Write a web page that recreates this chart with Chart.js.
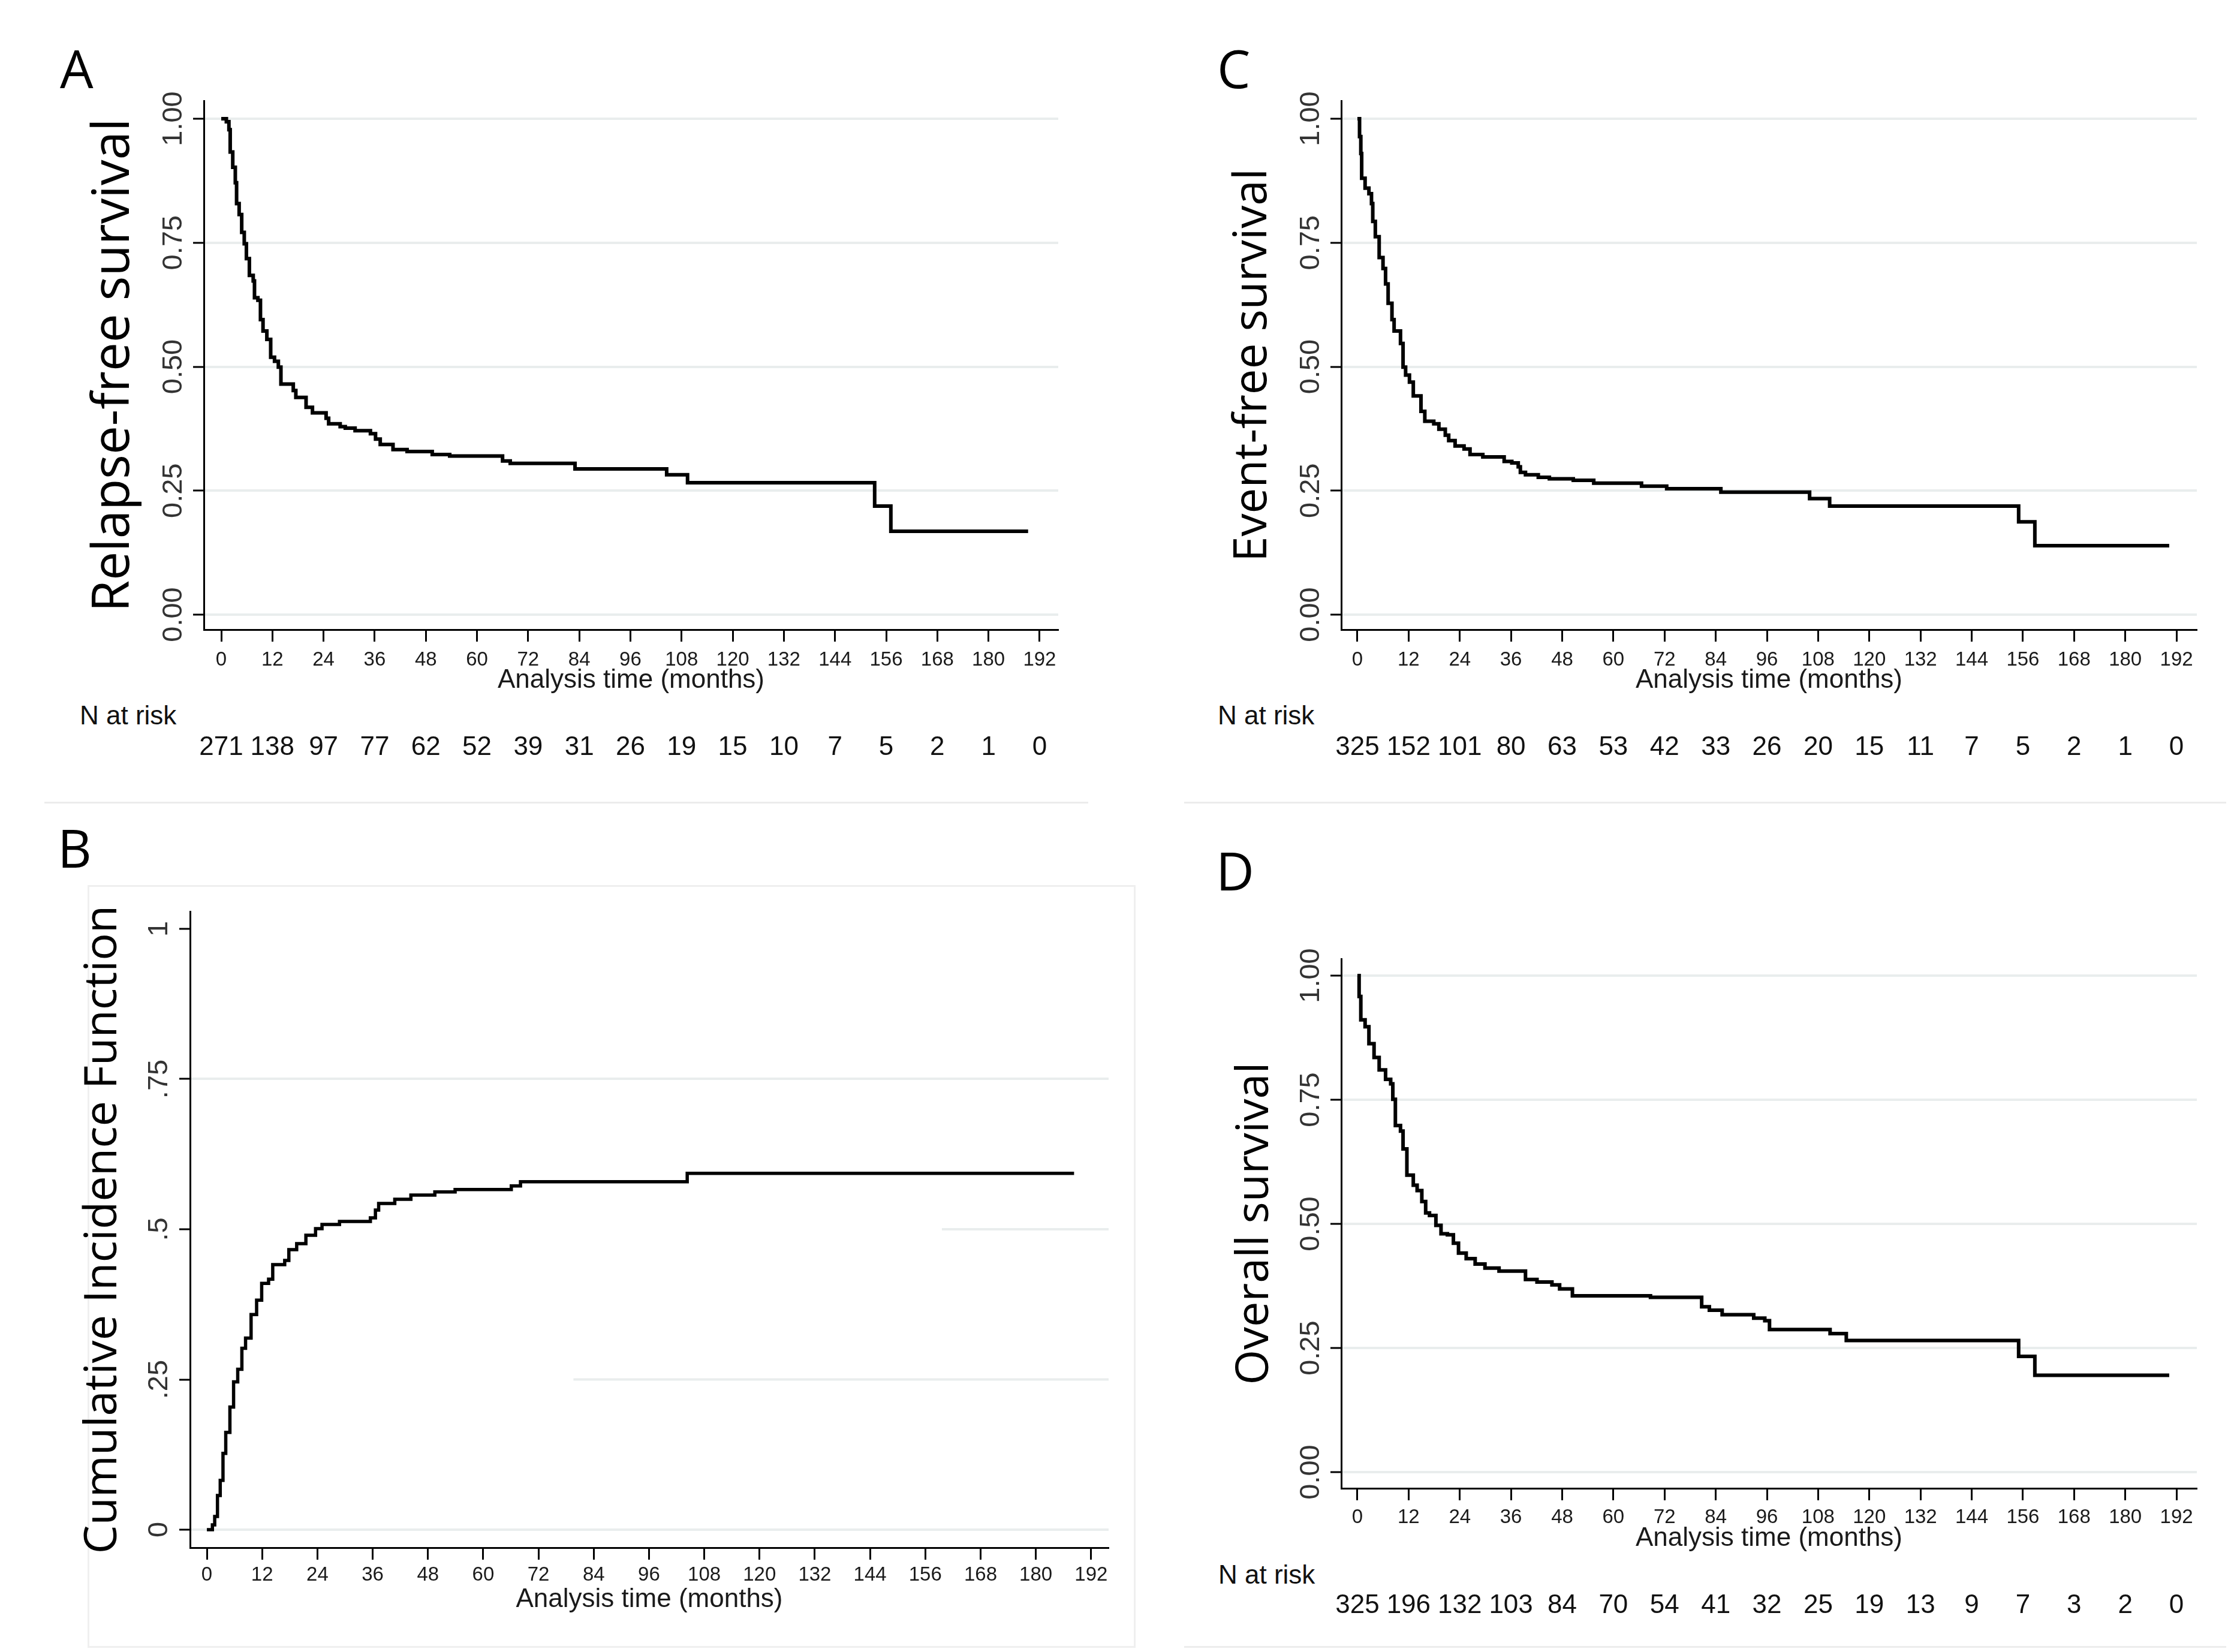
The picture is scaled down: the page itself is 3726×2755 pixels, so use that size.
<!DOCTYPE html>
<html>
<head>
<meta charset="utf-8">
<script src="https://cdn.jsdelivr.net/npm/chart.js@4.4.1/dist/chart.umd.min.js"></script>
<style>
  body { margin: 0; width: 3726px; height: 2755px; background: #fff; position: relative; overflow: hidden; }
  canvas, .letter, .nrisk, .rule, .frame { position: absolute; }
  .letter { font-family: "Open Sans", sans-serif; font-size: 88px; line-height: 1; color: #000; }
  .nrisk { font-family: "Liberation Sans", Arial, sans-serif; font-size: 44px; line-height: 1; color: #111; }
  .rule { background: #ececec; height: 3px; }
  .frame { border: 3px solid #efefef; box-sizing: border-box; }
</style>
</head>
<body>
<div class="rule" style="left:74px;top:1337px;width:1741px"></div>
<div class="rule" style="left:1975px;top:1337px;width:1738px"></div>
<div class="rule" style="left:1975px;top:2745px;width:1738px"></div>
<div class="frame" style="left:146px;top:1476px;width:1748px;height:1272px"></div>

<div class="letter" style="left:100px;top:69px">A</div>
<div class="letter" style="left:2030px;top:69px">C</div>
<div class="letter" style="left:96px;top:1369px">B</div>
<div class="letter" style="left:2028px;top:1407px">D</div>

<div class="nrisk" style="left:133px;top:1171px">N at risk</div>
<div class="nrisk" style="left:2031px;top:1171px">N at risk</div>
<div class="nrisk" style="left:2032px;top:2604px">N at risk</div>

<canvas id="chartA" width="1863" height="1330" style="left:0;top:0"></canvas>
<canvas id="chartC" width="1863" height="1330" style="left:1863px;top:0"></canvas>
<canvas id="chartB" width="1900" height="1425" style="left:0;top:1330px"></canvas>
<canvas id="chartD" width="1826" height="1425" style="left:1900px;top:1330px"></canvas>

<script>
// tick positions and labels
const monthTicks = [0, 12, 24, 36, 48, 60, 72, 84, 96, 108, 120, 132, 144, 156, 168, 180, 192];
const probTicks = [0, 0.25, 0.5, 0.75, 1];
const survTickLabels = ["0.00", "0.25", "0.50", "0.75", "1.00"];
const cifTickLabels = ["0", ".25", ".5", ".75", "1"];

// A: relapse-free survival
const rfsTime = [0, 1.2, 1.8, 2.1, 2.7, 3.3, 3.6, 4.2, 4.8, 5.4, 5.9, 6.6, 7.5, 7.8, 8.6, 9.2, 9.8, 10.7, 11.6, 12.5, 13.4, 14.0, 16.9, 17.5, 19.9, 21.4, 24.6, 25.2, 27.9, 29.1, 31.4, 35.0, 36.2, 37.3, 40.3, 43.6, 49.5, 53.6, 66.0, 67.8, 83.0, 104.5, 109.4, 153.3, 157.1, 189.3];
const rfsValue = [1.0, 0.994, 0.978, 0.933, 0.902, 0.871, 0.829, 0.807, 0.771, 0.748, 0.718, 0.684, 0.673, 0.639, 0.634, 0.595, 0.572, 0.555, 0.519, 0.511, 0.499, 0.465, 0.452, 0.438, 0.418, 0.407, 0.396, 0.385, 0.379, 0.376, 0.371, 0.365, 0.354, 0.343, 0.333, 0.329, 0.323, 0.320, 0.310, 0.305, 0.294, 0.282, 0.266, 0.219, 0.168, 0.168];
const rfsAtRisk = [271, 138, 97, 77, 62, 52, 39, 31, 26, 19, 15, 10, 7, 5, 2, 1, 0];

// C: event-free survival
const efsTime = [0, 0.5, 0.8, 1.0, 1.8, 2.7, 3.3, 3.6, 4.2, 5.1, 6.0, 6.6, 7.2, 8.1, 8.6, 10.1, 10.7, 11.3, 12.2, 13.1, 14.9, 15.8, 17.9, 19.1, 20.6, 21.4, 22.9, 25.0, 26.4, 29.4, 34.4, 36.2, 37.7, 38.2, 39.4, 42.4, 45.0, 50.6, 55.4, 66.6, 72.5, 85.2, 106.0, 110.7, 155.0, 158.8, 190.3];
const efsValue = [1.0, 0.964, 0.930, 0.880, 0.860, 0.849, 0.829, 0.793, 0.762, 0.720, 0.698, 0.667, 0.628, 0.595, 0.572, 0.547, 0.499, 0.483, 0.469, 0.441, 0.410, 0.390, 0.385, 0.374, 0.362, 0.351, 0.340, 0.334, 0.323, 0.318, 0.309, 0.306, 0.298, 0.287, 0.282, 0.277, 0.274, 0.271, 0.265, 0.259, 0.254, 0.247, 0.234, 0.219, 0.187, 0.139, 0.139];
const efsAtRisk = [325, 152, 101, 80, 63, 53, 42, 33, 26, 20, 15, 11, 7, 5, 2, 1, 0];

// B: cumulative incidence function
const cifTime = [0, 1.2, 1.7, 2.3, 2.9, 3.5, 4.1, 5.0, 5.8, 6.7, 7.6, 8.4, 9.6, 10.8, 11.9, 13.4, 14.3, 16.9, 17.8, 19.5, 21.5, 23.6, 25.0, 28.8, 35.5, 36.6, 37.3, 40.8, 44.3, 49.5, 53.9, 66.1, 68.1, 104.3, 188.3];
const cifValue = [0, 0.008, 0.022, 0.057, 0.082, 0.127, 0.162, 0.204, 0.246, 0.267, 0.302, 0.319, 0.358, 0.382, 0.410, 0.417, 0.441, 0.448, 0.466, 0.476, 0.490, 0.501, 0.508, 0.513, 0.519, 0.532, 0.543, 0.550, 0.557, 0.562, 0.566, 0.572, 0.579, 0.593, 0.593];

// D: overall survival
const osTime = [0, 0.4, 0.8, 1.8, 2.7, 3.9, 5.1, 6.6, 7.8, 8.3, 8.9, 10.1, 10.7, 11.6, 13.1, 14.0, 15.1, 16.0, 16.9, 18.4, 19.6, 21.1, 22.5, 23.7, 25.5, 27.6, 29.9, 33.2, 39.4, 42.1, 45.6, 47.4, 50.4, 68.7, 80.7, 82.5, 85.5, 92.9, 95.5, 96.6, 110.8, 114.6, 155.0, 158.8, 190.3];
const osValue = [1.0, 0.958, 0.911, 0.897, 0.863, 0.835, 0.810, 0.791, 0.782, 0.751, 0.698, 0.687, 0.651, 0.598, 0.578, 0.567, 0.545, 0.522, 0.517, 0.497, 0.480, 0.478, 0.461, 0.441, 0.430, 0.419, 0.411, 0.405, 0.388, 0.383, 0.377, 0.369, 0.355, 0.352, 0.333, 0.326, 0.317, 0.310, 0.305, 0.287, 0.279, 0.265, 0.233, 0.195, 0.195];
const osAtRisk = [325, 196, 132, 103, 84, 70, 54, 41, 32, 25, 19, 13, 9, 7, 3, 2, 0];

const gridColor = "#e9eded";
const tickFont = { family: "Liberation Sans", size: 33 };
const measureCtx = document.createElement("canvas").getContext("2d");

function fitFontSize(text, length) {
  measureCtx.font = '100px "Open Sans"';
  return 100 * length / measureCtx.measureText(text).width;
}

// faint grid pieces that only cover part of the plot (panel B)
const partialGrid = {
  id: "partialGrid",
  beforeDatasetsDraw(chart, args, opts) {
    if (!opts.lines) return;
    const { ctx, chartArea, scales } = chart;
    ctx.save();
    ctx.strokeStyle = gridColor;
    ctx.lineWidth = 4;
    opts.lines.forEach(l => {
      const py = scales.y.getPixelForValue(l.value);
      ctx.beginPath();
      ctx.moveTo(scales.x.getPixelForValue(l.from), py);
      ctx.lineTo(chartArea.right, py);
      ctx.stroke();
    });
    ctx.restore();
  }
};

function makeChart(id, p) {
  const titleSize = fitFontSize(p.title, p.titleLen);
  const scales = {
    x: {
      type: "linear", min: p.xMin, max: p.xMax, position: "bottom", weight: 0,
      afterBuildTicks: s => { s.ticks = monthTicks.map(v => ({ value: v })); },
      afterFit: s => { s.height = p.xHeight; s.paddingLeft = 0; s.paddingRight = 0; },
      grid: { drawOnChartArea: false, drawTicks: true, tickLength: 20, tickWidth: 3, tickColor: "#000" },
      border: { display: true, color: "#000", width: 3 },
      ticks: { font: tickFont, color: "#1a1a1a", padding: p.xTickPad, autoSkip: false, maxRotation: 0, minRotation: 0,
        callback: v => String(v) },
      title: { display: true, text: "Analysis time (months)", color: "#1a1a1a",
        font: { family: "Liberation Sans", size: 44 }, padding: { top: 0, bottom: 0 } }
    },
    y: {
      type: "linear", min: p.yMin, max: p.yMax, position: "left",
      afterBuildTicks: s => { s.ticks = probTicks.map(v => ({ value: v })); },
      afterFit: s => { s.width = p.yWidth; s.paddingTop = 0; s.paddingBottom = 0; },
      grid: {
        color: c => (p.hideGrid && c.tick && p.hideGrid.includes(c.tick.value)) ? "rgba(0,0,0,0)" : gridColor,
        lineWidth: 4, drawTicks: true, tickLength: 18, tickWidth: 3, tickColor: "#000"
      },
      border: { display: true, color: "#000", width: 3 },
      ticks: { font: { family: "Liberation Sans", size: 47 }, color: "#333", padding: p.yTickPad,
        minRotation: 90, maxRotation: 90, crossAlign: "center",
        callback: (v, i) => p.yLabels[i] },
      title: { display: true, text: p.title, color: "#000",
        font: { family: "Open Sans", size: titleSize },
        padding: { top: p.titleCenter - 0.6 * titleSize, bottom: 0 } }
    }
  };
  if (p.atRisk) {
    scales.xr = {
      type: "linear", min: p.xMin, max: p.xMax, position: "bottom", weight: 1,
      afterBuildTicks: s => { s.ticks = monthTicks.map(v => ({ value: v })); },
      afterFit: s => { s.height = p.riskHeight; s.paddingLeft = 0; s.paddingRight = 0; },
      grid: { display: false, drawTicks: false },
      border: { display: false },
      ticks: { font: { family: "Liberation Sans", size: 44 }, color: "#111", padding: p.riskPad,
        autoSkip: false, maxRotation: 0, minRotation: 0,
        callback: (v, i) => String(p.atRisk[i]) }
    };
  }
  return new Chart(document.getElementById(id), {
    type: "line",
    data: {
      datasets: [{
        data: p.time.map((t, i) => ({ x: t, y: p.value[i] })),
        stepped: true,
        borderColor: "#000",
        borderWidth: p.lineWidth,
        pointRadius: 0,
        fill: false,
        borderJoinStyle: "miter"
      }]
    },
    options: {
      responsive: false,
      animation: false,
      devicePixelRatio: 1,
      layout: { padding: p.padding },
      plugins: { legend: { display: false }, tooltip: { enabled: false }, partialGrid: { lines: p.partial } },
      scales: scales
    },
    plugins: [partialGrid]
  });
}

makeChart("chartA", {
  time: rfsTime, value: rfsValue, atRisk: rfsAtRisk, yLabels: survTickLabels,
  title: "Relapse-free survival", titleLen: 823, titleCenter: 191,
  xMin: -4.08, xMax: 196.37, yMin: -0.0302, yMax: 1.0363,
  padding: { left: 0, top: 168, right: 98, bottom: 49 },
  yWidth: 340, xHeight: 111, riskHeight: 120, xTickPad: 11, riskPad: 59, yTickPad: -14, lineWidth: 6
});

makeChart("chartC", {
  time: efsTime, value: efsValue, atRisk: efsAtRisk, yLabels: survTickLabels,
  title: "Event-free survival", titleLen: 656, titleCenter: 227,
  xMin: -3.79, xMax: 196.77, yMin: -0.0302, yMax: 1.0363,
  padding: { left: 0, top: 168, right: 62, bottom: 49 },
  yWidth: 374, xHeight: 111, riskHeight: 120, xTickPad: 11, riskPad: 59, yTickPad: -14, lineWidth: 6
});

makeChart("chartB", {
  time: cifTime, value: cifValue, yLabels: cifTickLabels,
  title: "Cumulative Incidence Function", titleLen: 1082, titleCenter: 172,
  xMin: -3.65, xMax: 195.8, yMin: -0.0299, yMax: 1.0289,
  padding: { left: 0, top: 190, right: 51, bottom: 61 },
  yWidth: 317, xHeight: 113, xTickPad: 6, yTickPad: 0, lineWidth: 5.5,
  hideGrid: [1, 0.5, 0.25],
  partial: [{ value: 0.5, from: 159.6 }, { value: 0.25, from: 79.6 }]
});

makeChart("chartD", {
  time: osTime, value: osValue, atRisk: osAtRisk, yLabels: survTickLabels,
  title: "Overall survival", titleLen: 538, titleCenter: 193,
  xMin: -3.79, xMax: 196.77, yMin: -0.0326, yMax: 1.0338,
  padding: { left: 0, top: 269, right: 62, bottom: 43 },
  yWidth: 337, xHeight: 110, riskHeight: 120, xTickPad: 9, riskPad: 59, yTickPad: -14, lineWidth: 6
});
</script>
</body>
</html>
